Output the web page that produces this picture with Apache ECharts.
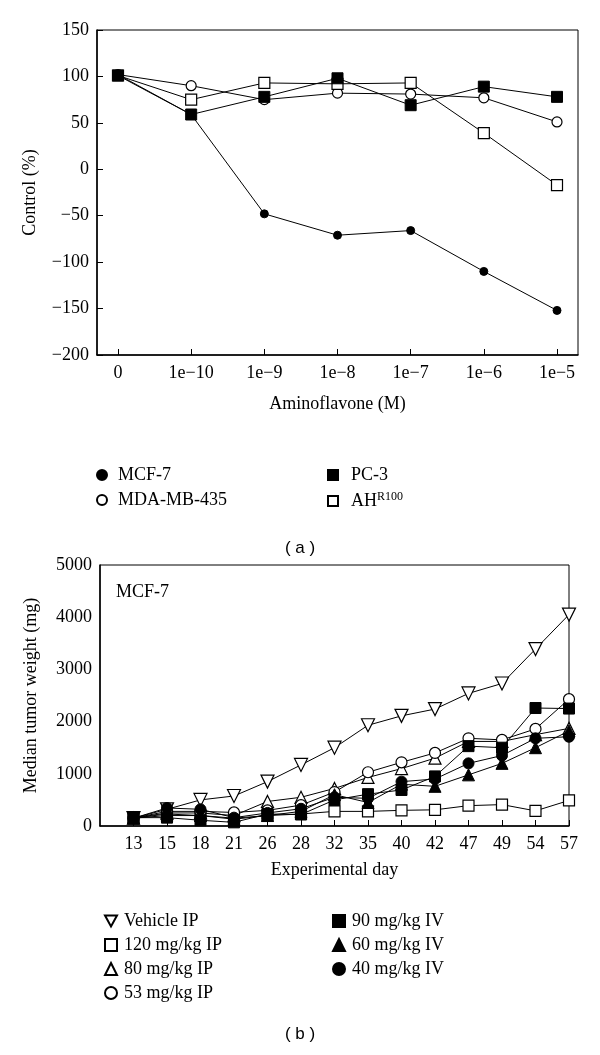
<!DOCTYPE html>
<html>
<head>
<meta charset="utf-8">
<script src="https://cdn.jsdelivr.net/npm/echarts@6/dist/echarts.min.js"></script>
<style>html,body{margin:0;padding:0;background:#fff;}#c{width:600px;height:1055px;}</style>
</head>
<body>
<div id="c"></div>
<script>
// ---- Panel (a) data ----
const concLabels = ['0', '1e\u221210', '1e\u22129', '1e\u22128', '1e\u22127', '1e\u22126', '1e\u22125'];
const mcf7 = [102, 59, -48, -71, -66, -110, -152];
const mda435 = [102, 90, 75, 82, 81, 77, 51];
const pc3 = [101, 59, 78, 98, 69, 89, 78];
const ahr100 = [101, 75, 93, 92, 93, 39, -17];

// ---- Panel (b) data ----
const days = ['13', '15', '18', '21', '26', '28', '32', '35', '40', '42', '47', '49', '54', '57'];
const vehicleIP = [150, 320, 500, 575, 850, 1170, 1500, 1930, 2110, 2240, 2540, 2730, 3390, 4050];
const ip120 = [150, 200, 200, 150, 200, 230, 280, 280, 300, 310, 390, 410, 290, 490];
const ip80 = [150, 250, 250, 200, 470, 550, 720, 930, 1100, 1300, 1620, 1620, 1750, 1870];
const ip53 = [150, 280, 280, 260, 300, 400, 650, 1030, 1220, 1400, 1680, 1650, 1860, 2430];
const iv90 = [160, 160, 110, 70, 230, 220, 500, 610, 690, 950, 1530, 1500, 2260, 2250];
const iv60 = [150, 230, 200, 130, 200, 280, 600, 450, 800, 760, 980, 1200, 1500, 1820];
const iv40 = [150, 345, 320, 160, 250, 330, 550, 530, 850, 900, 1200, 1350, 1680, 1710];

const FONT = 'Liberation Serif';
const DOWN_TRI = 'path://M0,0 L10,0 L5,9 Z';
const idx = arr => arr.map((v, i) => [i, v]);
const range = n => Array.from({length: n}, (_, i) => i);
const minus = v => (v < 0 ? '\u2212' + Math.abs(v) : String(v));

const chart = echarts.init(document.getElementById('c'), null, {renderer: 'canvas'});

function ser(name, data, xi, symbol, size, filled, extra) {
  return Object.assign({
    name: name, type: 'line', xAxisIndex: xi, yAxisIndex: xi,
    data: idx(data), symbol: symbol, symbolSize: size, showSymbol: true,
    lineStyle: {color: '#000', width: 1},
    itemStyle: filled ? {color: '#000', borderColor: '#000', borderWidth: 1}
                      : {color: '#fff', borderColor: '#000', borderWidth: 1.2},
    emphasis: {disabled: true}, animation: false, z: filled ? 3 : 2
  }, extra || {});
}

const axisCommon = {
  axisLine: {onZero: false, lineStyle: {color: '#000', width: 1.5}},
  splitLine: {show: false},
  axisLabel: {color: '#000', fontFamily: FONT, fontSize: 18},
  nameTextStyle: {color: '#000', fontFamily: FONT, fontSize: 18}
};

const option = {
  backgroundColor: '#fff',
  animation: false,
  textStyle: {fontFamily: FONT},
  title: [
    {text: '( a )', left: 'center', top: 535, textStyle: {fontFamily: 'Liberation Sans', fontWeight: 'normal', fontSize: 17, color: '#000'}},
    {text: '( b )', left: 'center', top: 1021, textStyle: {fontFamily: 'Liberation Sans', fontWeight: 'normal', fontSize: 17, color: '#000'}}
  ],
  grid: [
    {left: 97, top: 30, width: 481, height: 325, show: true, borderColor: '#000', borderWidth: 1, containLabel: false},
    {left: 100, top: 565, width: 469, height: 261, show: true, borderColor: '#000', borderWidth: 1, containLabel: false}
  ],
  xAxis: [
    Object.assign({}, axisCommon, {
      type: 'value', gridIndex: 0, min: -0.287, max: 6.287,
      name: 'Aminoflavone (M)', nameLocation: 'middle', nameGap: 40,
      axisTick: {inside: true, length: 6, customValues: range(7), lineStyle: {color: '#000', width: 1}},
      axisLabel: Object.assign({}, axisCommon.axisLabel, {customValues: range(7), margin: 9,
        formatter: v => concLabels[Math.round(v)]})
    }),
    Object.assign({}, axisCommon, {
      type: 'value', gridIndex: 1, min: -1, max: 13, interval: 1,
      name: 'Experimental day', nameLocation: 'middle', nameGap: 35,
      axisTick: {inside: true, length: 6, customValues: range(14), lineStyle: {color: '#000', width: 1}},
      axisLabel: Object.assign({}, axisCommon.axisLabel, {customValues: range(14), margin: 9,
        formatter: v => days[Math.round(v)]})
    })
  ],
  yAxis: [
    Object.assign({}, axisCommon, {
      type: 'value', gridIndex: 0, min: -200, max: 150, interval: 50,
      name: 'Control (%)', nameLocation: 'middle', nameGap: 58,
      axisTick: {inside: true, length: 6, lineStyle: {color: '#000', width: 1}},
      axisLabel: Object.assign({}, axisCommon.axisLabel, {margin: 8, formatter: v => minus(v)})
    }),
    Object.assign({}, axisCommon, {
      type: 'value', gridIndex: 1, min: 0, max: 5000, interval: 1000,
      name: 'Median tumor weight (mg)', nameLocation: 'middle', nameGap: 60,
      axisTick: {show: false},
      axisLabel: Object.assign({}, axisCommon.axisLabel, {margin: 8, formatter: v => String(v)})
    })
  ],
  legend: [
    {left: 91, top: 461, orient: 'vertical', itemWidth: 10, itemHeight: 10, itemGap: 7,
     data: [{name: 'MCF-7', icon: 'circle'}, {name: 'MDA-MB-435', icon: 'circle'}],
     textStyle: {fontFamily: FONT, fontSize: 18, color: '#000', padding: [0, 0, 0, 6]}},
    {left: 322, top: 461, orient: 'vertical', itemWidth: 10, itemHeight: 10, itemGap: 7,
     data: [{name: 'PC-3', icon: 'rect'}, {name: 'AHR100', icon: 'rect'}],
     formatter: n => n === 'AHR100' ? '{m|AH}{s|R100}' : n,
     textStyle: {fontFamily: FONT, fontSize: 18, color: '#000', padding: [0, 0, 0, 8],
       rich: {m: {fontFamily: FONT, fontSize: 18, color: '#000'},
              s: {fontFamily: FONT, fontSize: 12, color: '#000', verticalAlign: 'top', padding: [0, 0, 8, 0]}}}},
    {left: 99, top: 907, orient: 'vertical', itemWidth: 12, itemHeight: 12, itemGap: 6,
     data: [{name: 'Vehicle IP', icon: DOWN_TRI}, {name: '120 mg/kg IP', icon: 'rect'},
            {name: '80 mg/kg IP', icon: 'triangle'}, {name: '53 mg/kg IP', icon: 'circle'}],
     textStyle: {fontFamily: FONT, fontSize: 18, color: '#000', padding: [0, 0, 0, 2]}},
    {left: 327, top: 907, orient: 'vertical', itemWidth: 12, itemHeight: 12, itemGap: 6,
     data: [{name: '90 mg/kg IV', icon: 'rect'}, {name: '60 mg/kg IV', icon: 'triangle'},
            {name: '40 mg/kg IV', icon: 'circle'}],
     textStyle: {fontFamily: FONT, fontSize: 18, color: '#000', padding: [0, 0, 0, 2]}}
  ],
  graphic: [
    {type: 'text', left: 116, top: 583, style: {text: 'MCF-7', fontFamily: FONT, fontSize: 18, fill: '#000'}}
  ],
  series: [
    ser('MDA-MB-435', mda435, 0, 'circle', 10, false),
    ser('AHR100', ahr100, 0, 'rect', 11, false),
    ser('PC-3', pc3, 0, 'rect', 11, true),
    ser('MCF-7', mcf7, 0, 'circle', 8, true),

    ser('Vehicle IP', vehicleIP, 1, 'triangle', 13, false, {symbolRotate: 180}),
    ser('120 mg/kg IP', ip120, 1, 'rect', 11, false),
    ser('80 mg/kg IP', ip80, 1, 'triangle', 12, false),
    ser('53 mg/kg IP', ip53, 1, 'circle', 11, false),
    ser('90 mg/kg IV', iv90, 1, 'rect', 11, true),
    ser('60 mg/kg IV', iv60, 1, 'triangle', 12, true),
    ser('40 mg/kg IV', iv40, 1, 'circle', 11, true)
  ]
};
chart.setOption(option);
</script>
</body>
</html>
